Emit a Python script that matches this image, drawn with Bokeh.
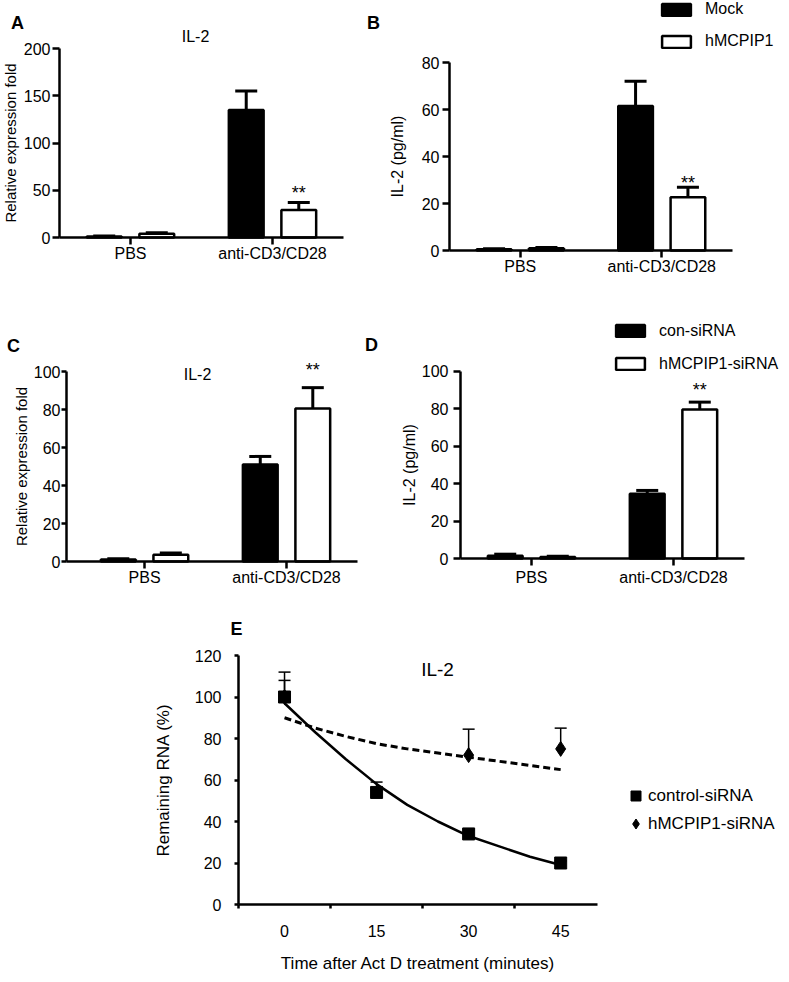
import numpy as np
from bokeh.plotting import figure
from bokeh.models import (Range1d, FixedTicker, Whisker, TeeHead, ColumnDataSource,
                          Label, Legend, LegendItem, LinearAxis, CustomJSTickFormatter)
from bokeh.embed import file_html
from bokeh.resources import INLINE

FONT = "Liberation Sans"

# ---------------- data ----------------
groups = ["PBS", "anti-CD3/CD28"]

a_mock = [1.0, 135.0]
a_mock_err = [0.5, 20.0]
a_hm = [4.0, 29.0]
a_hm_err = [1.0, 8.0]
a_yticks = [0, 50, 100, 150, 200]

b_mock = [0.5, 61.5]
b_mock_err = [0.2, 10.5]
b_hm = [1.0, 22.7]
b_hm_err = [0.3, 4.2]
b_yticks = [0, 20, 40, 60, 80]

c_con = [1.0, 51.0]
c_con_err = [0.4, 4.3]
c_hm = [3.5, 80.5]
c_hm_err = [1.0, 11.0]
c_yticks = [0, 20, 40, 60, 80, 100]

d_con = [1.5, 34.5]
d_con_err = [0.8, 1.8]
d_hm = [0.8, 79.5]
d_hm_err = [0.4, 3.9]
d_yticks = [0, 20, 40, 60, 80, 100]

e_times = [0, 15, 30, 45]
e_ctrl = [100, 54, 34, 20]
e_ctrl_err = [8, 5, 2, 1]
e_hm = [100, np.nan, 72, 75]
e_hm_err = [12, np.nan, 12.5, 10]
e_fit_t = [0, 5, 10, 15, 20, 25, 30, 35, 40, 45]
e_ctrl_fit = [97, 83, 70, 58, 48, 40, 33, 28, 23, 19]
e_hm_fit = [90, 85, 81, 77.5, 75, 73, 71, 69, 67, 65]
e_yticks = [0, 20, 40, 60, 80, 100, 120]

# ---------------- canvas ----------------
W, H = 786, 979
p = figure(width=W, height=H, x_range=Range1d(0, W), y_range=Range1d(0, H),
           x_axis_type=None, y_axis_type=None, output_backend="svg",
           toolbar_location=None, min_border=0)
p.xgrid.visible = False
p.ygrid.visible = False
p.outline_line_color = None


def span(v0, v1, p0, p1, total):
    """range so that value v0 sits at pixel p0 and v1 at p1 (pixels from left/bottom)"""
    k = (v1 - v0) / float(p1 - p0)
    return Range1d(v0 - p0 * k, v0 + (total - p0) * k)


def add_ranges(name, xv, xpx, yv, ypx_page):
    p.extra_x_ranges[name] = span(xv[0], xv[1], xpx[0], xpx[1], W)
    p.extra_y_ranges[name] = span(yv[0], yv[1], H - ypx_page[0], H - ypx_page[1], H)


def style_axis(ax, tick_out, tick_sd, lab_size="16px"):
    ax.axis_line_width = 2.5
    ax.axis_line_color = "black"
    ax.major_tick_line_width = 2.5
    ax.major_tick_line_color = "black"
    ax.minor_tick_line_color = None
    ax.major_tick_in = 0
    ax.major_tick_out = tick_out
    ax.major_label_standoff = tick_sd
    ax.major_label_text_font = FONT
    ax.major_label_text_font_size = "16px"
    ax.major_label_text_color = "black"
    ax.axis_label_text_font = FONT
    ax.axis_label_text_font_style = "normal"
    ax.axis_label_text_color = "black"
    ax.axis_label_text_font_size = lab_size


def screen_label(text, x, y_page, size="16px", bold=False):
    p.add_layout(Label(x=x, y=H - y_page, x_units="screen", y_units="screen", text=text,
                       text_font=FONT, text_font_size=size,
                       text_font_style="bold" if bold else "normal",
                       text_align="center", text_baseline="alphabetic",
                       text_color="black"))


def bar_panel(name, x0, xpx, ypx, s1, e1, s2, e2, yticks, ylabel, ylab_size,
              ytick_out, ytick_sd, ylab_sd, xtick_sd, cap, star_dy):
    xs = np.arange(1, len(groups) + 1, dtype=float)
    x1_end = len(groups) + 0.5
    add_ranges(name, (x0, x1_end), xpx, (0, yticks[-1]), ypx)
    kw = dict(x_range_name=name, y_range_name=name)
    off, bw = 0.185, 0.245
    x1 = xs - off
    x2 = xs + off
    s1a, e1a, s2a, e2a = map(np.asarray, (s1, e1, s2, e2))
    r1 = p.vbar(x=x1, top=s1a, bottom=0, width=bw, fill_color="black",
                line_color="black", line_width=2.5, **kw)
    r2 = p.vbar(x=x2, top=s2a, bottom=0, width=bw, fill_color="white",
                line_color="black", line_width=2.5, **kw)
    for xb, s, e in ((x1, s1a, e1a), (x2, s2a, e2a)):
        src = ColumnDataSource(dict(base=xb, lower=s, upper=s + e))
        p.add_layout(Whisker(source=src, base="base", lower="lower", upper="upper",
                             dimension="height", line_width=3, line_color="black",
                             upper_head=TeeHead(size=cap, line_width=3, line_color="black"),
                             lower_head=None, level="glyph", **kw))
    p.add_layout(Label(x=x2[1], y=s2a[1] + e2a[1], text="**", text_font=FONT,
                       text_font_size="18px", text_align="center",
                       text_baseline="alphabetic", y_offset=star_dy,
                       text_color="black", **kw))
    yax = LinearAxis(fixed_location=x0, bounds=(0, yticks[-1]),
                     ticker=FixedTicker(ticks=yticks), axis_label=ylabel,
                     axis_label_standoff=ylab_sd, **kw)
    style_axis(yax, ytick_out, ytick_sd, ylab_size)
    p.add_layout(yax, "left")
    xax = LinearAxis(fixed_location=0, bounds=(x0, x1_end),
                     ticker=FixedTicker(ticks=list(xs)),
                     major_label_overrides={int(x): g for x, g in zip(xs, groups)}, **kw)
    style_axis(xax, 7, xtick_sd)
    p.add_layout(xax, "below")
    return r1, r2


def bar_legend(r1, r2, names, left, bottom_page, spacing):
    lg = Legend(items=[LegendItem(label=names[0], renderers=[r1]),
                       LegendItem(label=names[1], renderers=[r2])],
                location=(left, H - bottom_page), orientation="vertical", padding=0,
                margin=0, spacing=spacing, glyph_width=36, glyph_height=15,
                label_height=15, label_standoff=11, label_text_font=FONT,
                label_text_font_size="16px", label_text_color="black",
                border_line_color=None, background_fill_alpha=0)
    p.add_layout(lg)


# ---------------- A ----------------
bar_panel("A", 0.5, (59, 343), (237, 48), a_mock, a_mock_err, a_hm, a_hm_err,
          a_yticks, "Relative expression fold", "15px", 7, 2, 2, 0, 22, 10)
screen_label("A", 17, 22, "18px", True)
screen_label("IL-2", 195, 36)

# ---------------- B ----------------
rb1, rb2 = bar_panel("B", 0.5, (449, 732), (250, 62), b_mock, b_mock_err, b_hm, b_hm_err,
                     b_yticks, "IL-2 (pg/ml)", "16px", 7, 3, 13, 0, 22, 4)
screen_label("B", 373, 22, "18px", True)
bar_legend(rb1, rb2, ["Mock", "hMCPIP1"], 658, 50, 14)

# ---------------- C ----------------
bar_panel("C", 0.45, (66, 357), (561, 371), c_con, c_con_err, c_hm, c_hm_err,
          c_yticks, "Relative expression fold", "15px", 5, 1, 1, 0, 22, 18)
screen_label("C", 13, 345, "18px", True)
screen_label("IL-2", 197, 374)

# ---------------- D ----------------
rd1, rd2 = bar_panel("D", 0.5, (460, 744), (558, 370.5), d_con, d_con_err, d_hm, d_hm_err,
                     d_yticks, "IL-2 (pg/ml)", "16px", 7, 5, 1, 3, 22, 12)
screen_label("D", 371, 344, "18px", True)
bar_legend(rd1, rd2, ["con-siRNA", "hMCPIP1-siRNA"], 612, 372.5, 15)

# ---------------- E ----------------
half = (e_times[1] - e_times[0]) / 2.0
ex0 = e_times[0] - half
add_ranges("E", (ex0, 51), (238, 597), (0, e_yticks[-1]), (904, 655))
ekw = dict(x_range_name="E", y_range_name="E")

p.line(e_fit_t, e_ctrl_fit, line_width=2.5, line_color="black", **ekw)
p.line(e_fit_t, e_hm_fit, line_width=3, line_color="black", line_dash="7 4", **ekw)

hm_t = np.array(e_times, dtype=float)
hm_v = np.array(e_hm, dtype=float)
hm_e = np.array(e_hm_err, dtype=float)
ok = ~np.isnan(hm_v)
for xb, v, e in ((np.array(e_times, dtype=float), np.array(e_ctrl, dtype=float),
                  np.array(e_ctrl_err, dtype=float)),
                 (hm_t[ok], hm_v[ok], hm_e[ok])):
    src = ColumnDataSource(dict(base=xb, lower=v, upper=v + e))
    p.add_layout(Whisker(source=src, base="base", lower="lower", upper="upper",
                         dimension="height", line_width=1.5, line_color="black",
                         upper_head=TeeHead(size=12, line_width=1.5, line_color="black"),
                         lower_head=None, level="glyph", **ekw))

rdia = p.scatter(hm_t[ok], hm_v[ok], marker="diamond", size=15,
                 fill_color="black", line_color="black", **ekw)
rsq = p.scatter(e_times, e_ctrl, marker="square", size=12, fill_color="black",
                line_color="black", **ekw)

eyax = LinearAxis(fixed_location=ex0, bounds=(0, e_yticks[-1]),
                  ticker=FixedTicker(ticks=e_yticks), axis_label="Remaining RNA (%)",
                  axis_label_standoff=19, **ekw)
style_axis(eyax, 4, 13, "17px")
p.add_layout(eyax, "left")

ax1 = LinearAxis(fixed_location=0, bounds=(ex0, 51),
                 ticker=FixedTicker(ticks=[t - half for t in e_times]),
                 formatter=CustomJSTickFormatter(code="return ''"), **ekw)
style_axis(ax1, 4, 0)
ax1.major_label_text_font_size = "0px"
p.add_layout(ax1, "below")

ax2 = LinearAxis(fixed_location=0, bounds=(ex0, 51), ticker=FixedTicker(ticks=e_times),
                 axis_label="Time after Act D treatment (minutes)",
                 axis_label_standoff=14, **ekw)
style_axis(ax2, 0, 20, "17px")
ax2.axis_line_color = None
ax2.major_tick_line_color = None
p.add_layout(ax2, "below")

legE = Legend(items=[LegendItem(label="control-siRNA", renderers=[rsq]),
                     LegendItem(label="hMCPIP1-siRNA", renderers=[rdia])],
              location=(623, H - 836), orientation="vertical", padding=0, margin=0,
              spacing=3, glyph_width=25, glyph_height=25, label_height=25,
              label_standoff=0, label_text_font=FONT, label_text_font_size="17px",
              label_text_color="black", border_line_color=None,
              background_fill_alpha=0)
p.add_layout(legE)
screen_label("E", 236, 628, "18px", True)
screen_label("IL-2", 437, 669, "19px")

open("out.html", "w").write(file_html(p, INLINE))
